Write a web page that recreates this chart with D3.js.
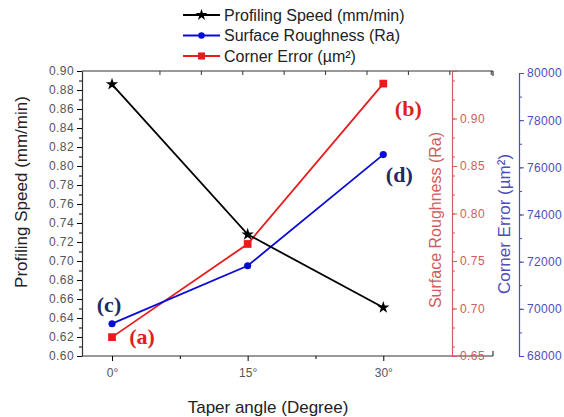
<!DOCTYPE html>
<html>
<head>
<meta charset="utf-8">
<script src="https://cdn.jsdelivr.net/npm/d3@7"></script>
<style>
body { margin: 0; background: #fff; }
text { font-family: Arial, "Liberation Sans", sans-serif; }
</style>
</head>
<body>
<svg id="chart" width="564" height="417"></svg>
<script>
// data
var angles = [0, 15, 30];
var angleLabels = ["0°", "15°", "30°"];
var profilingSpeed = [0.886, 0.728, 0.651];      // left axis
var surfaceRoughness = [0.684, 0.745, 0.862];    // red axis (Ra)
var cornerError = [68800, 72750, 79550];         // blue axis (µm²)
var seriesNames = ["Profiling Speed (mm/min)", "Surface Roughness (Ra)", "Corner Error (µm²)"];
var noteLabels = ["(a)", "(b)", "(c)", "(d)"];

var svg = d3.select("#chart");
var pLeft = 82, pRight = 452, pTop = 71, pBottom = 356, frameRight = 493;

var x = d3.scaleLinear().domain([-3.32, 37.6]).range([pLeft, pRight]);
var ySpeed = d3.scaleLinear().domain([0.60, 0.90]).range([pBottom, pTop]);
var yRa = d3.scaleLinear().domain([0.65, 0.95]).range([pBottom, pTop]);
var yErr = d3.scaleLinear().domain([68000, 80000]).range([pBottom, 73]);

var redAxis = "#d35b5b", blueAxis = "#4d4dbb", grey = "#555";

// frame top / bottom
svg.append("line").attr("x1", pLeft).attr("x2", frameRight).attr("y1", pTop).attr("y2", pTop)
  .attr("stroke", "#333").attr("stroke-width", 1.2);
svg.append("line").attr("x1", frameRight).attr("x2", frameRight).attr("y1", pTop).attr("y2", pTop + 5)
  .attr("stroke", "#333").attr("stroke-width", 1.2);

// top minor ticks
var topTicks = d3.range(5.3, 42.5, 4.58);
svg.selectAll(".topTick").data(topTicks).enter().append("line")
  .attr("x1", function (d) { return x(d); }).attr("x2", function (d) { return x(d); })
  .attr("y1", pTop).attr("y2", pTop + 4).attr("stroke", "#333");

// bottom axis
var gx = svg.append("g").attr("transform", "translate(0," + pBottom + ")");
gx.append("line").attr("x1", pLeft).attr("x2", frameRight).attr("stroke", "#333").attr("stroke-width", 1.2);
gx.append("line").attr("x1", frameRight).attr("x2", frameRight).attr("y1", 0).attr("y2", -5)
  .attr("stroke", "#333").attr("stroke-width", 1.2);
var xAxis = gx.append("g").call(d3.axisBottom(x).tickValues(angles).tickSize(5)
  .tickFormat(function (d, i) { return angleLabels[i]; }));
xAxis.select(".domain").remove();
xAxis.selectAll("text").style("font-size", "12px").attr("fill", grey).attr("dy", "1.1em");
var xMinor = gx.append("g").call(d3.axisBottom(x).tickValues([7.5, 22.5]).tickSize(3).tickFormat(""));
xMinor.select(".domain").remove();

svg.append("text").attr("x", 268).attr("y", 413).attr("text-anchor", "middle")
  .style("font-size", "17px").attr("fill", "#222").text("Taper angle (Degree)");

// left axis
var gy = svg.append("g").attr("transform", "translate(" + pLeft + ",0)");
gy.append("g").call(d3.axisLeft(ySpeed).ticks(30).tickSize(3).tickFormat(""))
  .select(".domain").remove();
var yAxis = gy.append("g").call(d3.axisLeft(ySpeed).ticks(15).tickSize(5).tickSizeOuter(0)
  .tickFormat(d3.format(".2f")));
yAxis.select(".domain").attr("stroke", "#333").attr("stroke-width", 1.2);
yAxis.selectAll("text").style("font-size", "12px").attr("fill", grey).attr("letter-spacing", "0.4px");
svg.append("text").attr("transform", "translate(27,192) rotate(-90)").attr("text-anchor", "middle")
  .style("font-size", "17px").attr("fill", "#222").text(seriesNames[0]);

// red axis (Surface Roughness)
var gr = svg.append("g").attr("transform", "translate(" + pRight + ",0)");
gr.append("g").call(d3.axisRight(yRa).ticks(12).tickSize(3).tickFormat(""))
  .call(function (g) { g.select(".domain").remove(); g.selectAll("line").attr("stroke", redAxis); });
var rAxis = gr.append("g").call(d3.axisRight(yRa).ticks(6).tickSize(5).tickSizeOuter(0)
  .tickFormat(function (d) { return d > 0.91 ? "" : d3.format(".2f")(d); }));
rAxis.select(".domain").attr("stroke", redAxis).attr("stroke-width", 1.2);
rAxis.selectAll("line").attr("stroke", redAxis);
rAxis.selectAll("text").style("font-size", "12px").attr("fill", redAxis).attr("letter-spacing", "0.4px");
svg.append("text").attr("transform", "translate(441,220) rotate(-90)").attr("text-anchor", "middle")
  .style("font-size", "16px").attr("fill", redAxis).text(seriesNames[1]);

// blue axis (Corner Error)
var gb = svg.append("g").attr("transform", "translate(519,0)");
gb.append("g").call(d3.axisRight(yErr).ticks(12).tickSize(3).tickFormat(""))
  .call(function (g) { g.select(".domain").remove(); g.selectAll("line").attr("stroke", blueAxis); });
var bAxis = gb.append("g").call(d3.axisRight(yErr).ticks(6).tickSize(5).tickSizeOuter(5)
  .tickFormat(d3.format("d")));
bAxis.select(".domain").attr("stroke", blueAxis).attr("stroke-width", 1.2);
bAxis.selectAll("line").attr("stroke", blueAxis);
bAxis.selectAll("text").style("font-size", "12px").attr("fill", blueAxis).attr("letter-spacing", "0.3px");
svg.append("text").attr("transform", "translate(510,224) rotate(-90)").attr("text-anchor", "middle")
  .style("font-size", "17px").attr("fill", blueAxis).text(seriesNames[2]);

// series
function drawSeries(values, scale, color, symbol, size) {
  var line = d3.line()
    .x(function (d, i) { return x(angles[i]); })
    .y(function (d) { return scale(d); });
  svg.append("path").datum(values).attr("d", line)
    .attr("fill", "none").attr("stroke", color).attr("stroke-width", 1.8);
  svg.selectAll(null).data(values).enter().append("path")
    .attr("d", d3.symbol().type(symbol).size(size))
    .attr("transform", function (d, i) { return "translate(" + x(angles[i]) + "," + scale(d) + ")"; })
    .attr("fill", color);
}
drawSeries(cornerError, yErr, "#e81c1c", d3.symbolSquare, 60);
drawSeries(surfaceRoughness, yRa, "#0a0ad8", d3.symbolCircle, 40);
drawSeries(profilingSpeed, ySpeed, "#000", d3.symbolStar, 48);

// annotations next to the end points
var notes = [
  { t: noteLabels[0], px: x(angles[0]) + 30, py: yErr(cornerError[0]) + 7, c: "#df1f1f" },
  { t: noteLabels[1], px: x(angles[2]) + 25, py: yErr(cornerError[2]) + 32, c: "#df1f1f" },
  { t: noteLabels[2], px: x(angles[0]) - 3, py: yRa(surfaceRoughness[0]) - 12, c: "#1f2a66" },
  { t: noteLabels[3], px: x(angles[2]) + 16, py: yRa(surfaceRoughness[2]) + 27, c: "#1f2a66" }
];
svg.selectAll(".note").data(notes).enter().append("text")
  .attr("x", function (d) { return d.px; }).attr("y", function (d) { return d.py; })
  .attr("text-anchor", "middle").style("font-family", "'Liberation Serif', 'DejaVu Serif', serif")
  .style("font-weight", "bold").style("font-size", "22px")
  .attr("fill", function (d) { return d.c; }).text(function (d) { return d.t; });

// legend
var legendColors = ["#000", "#0a0ad8", "#e81c1c"];
var legendSymbols = [d3.symbolStar, d3.symbolCircle, d3.symbolSquare];
var legendSizes = [42, 34, 50];
var lg = svg.selectAll(".legend").data(seriesNames).enter().append("g")
  .attr("transform", function (d, i) { return "translate(183," + (15 + i * 20.5) + ")"; });
lg.append("line").attr("x1", 0).attr("x2", 37)
  .attr("stroke", function (d, i) { return legendColors[i]; }).attr("stroke-width", 2);
lg.append("path").attr("transform", "translate(18.5,0)")
  .attr("d", function (d, i) { return d3.symbol().type(legendSymbols[i]).size(legendSizes[i])(); })
  .attr("fill", function (d, i) { return legendColors[i]; });
lg.append("text").attr("x", 41).attr("dy", "0.36em").style("font-size", "16px").attr("fill", "#222")
  .text(function (d) { return d; });
</script>
</body>
</html>
